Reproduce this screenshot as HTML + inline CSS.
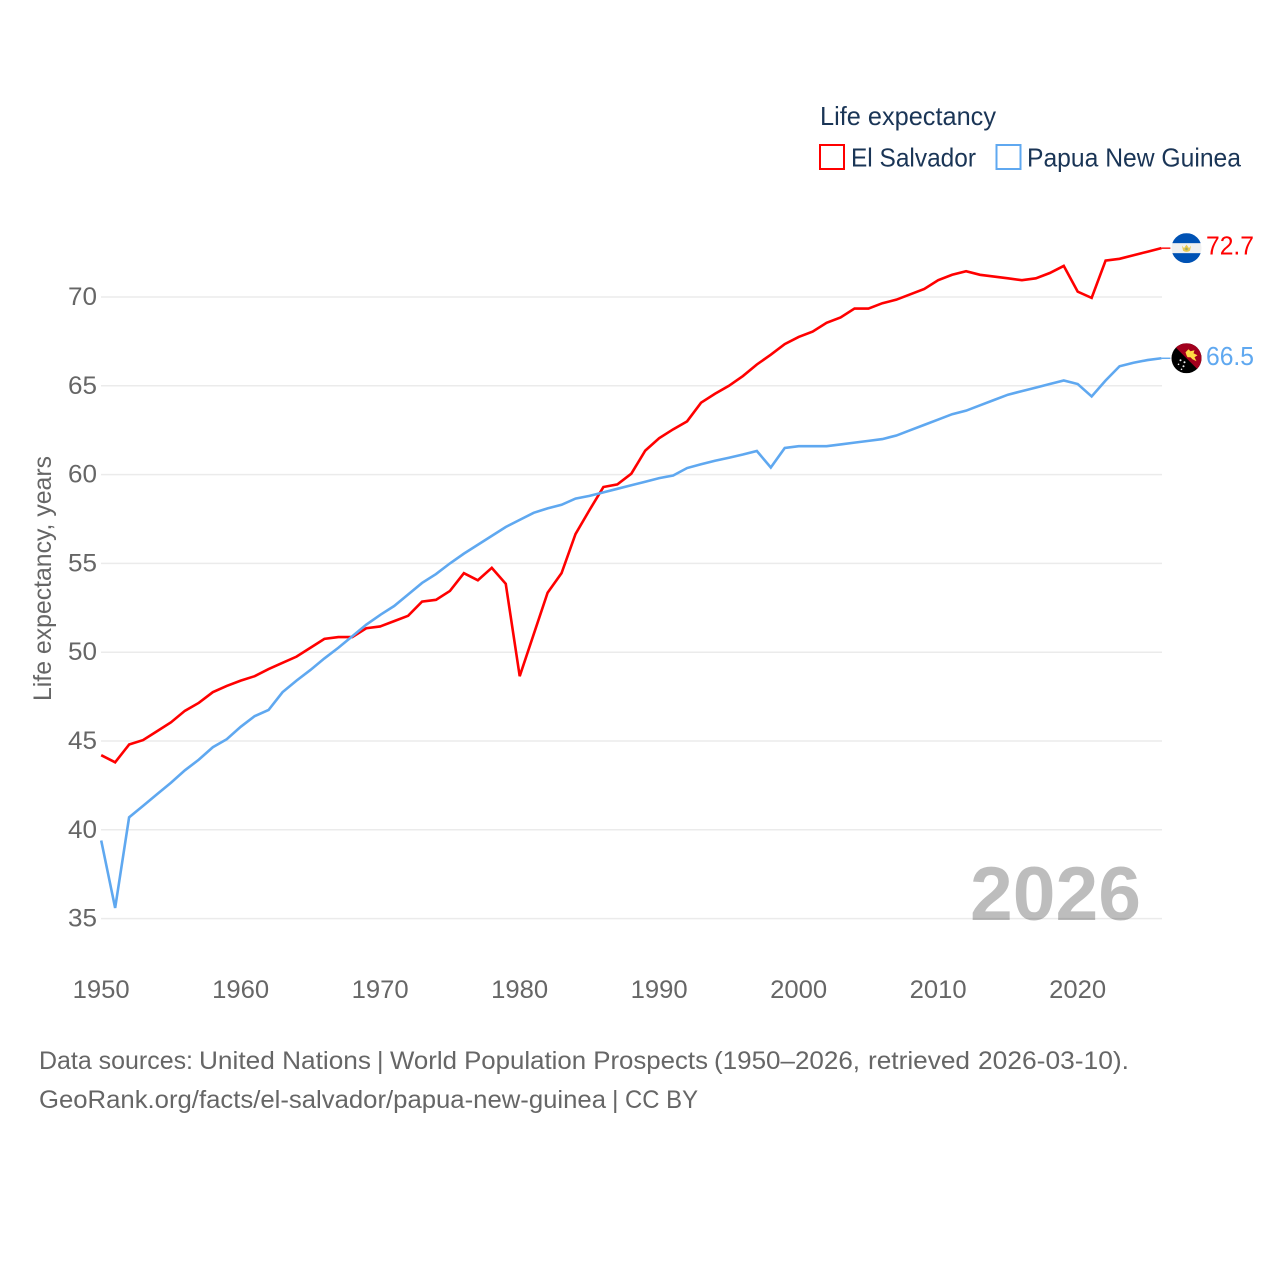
<!DOCTYPE html>
<html lang="en">
<head>
<meta charset="utf-8">
<title>Life expectancy: El Salvador vs Papua New Guinea</title>
<style>
html,body{margin:0;padding:0;background:#fff;}
svg{display:block;}
text{font-family:"Liberation Sans",sans-serif;}
</style>
</head>
<body>
<svg id="chart" xmlns="http://www.w3.org/2000/svg" width="1280" height="1280" viewBox="0 0 1280 1280">
  <defs>
    <clipPath id="flag-clip-a"><circle cx="0" cy="0" r="15"/></clipPath>
    <clipPath id="flag-clip-b"><circle cx="0" cy="0" r="15"/></clipPath>
  </defs>
  <rect x="0" y="0" width="1280" height="1280" fill="#fff"/>
  <g id="grid"></g>
  <g id="yticks"></g>
  <g id="xticks"></g>
  <text transform="translate(51,701) rotate(-90)" font-size="25" fill="#666" textLength="245" lengthAdjust="spacingAndGlyphs">Life expectancy, years</text>
  <text x="970" y="920" font-size="76" font-weight="bold" fill="#000" fill-opacity="0.26" textLength="171" lengthAdjust="spacingAndGlyphs">2026</text>
  <g id="series"></g>
  <g id="flag-sv">
    <g clip-path="url(#flag-clip-a)">
      <rect x="-15" y="-15" width="30" height="30" fill="#f0f0f0"/>
      <rect x="-15" y="-15" width="30" height="10" fill="#0052b4"/>
      <rect x="-15" y="5" width="30" height="10" fill="#0052b4"/>
      <path d="M-4.500 -2.500 L-2.500 0 L0 -3.500 L2.500 0 L4.500 -2.500 L3.500 2.500 Q0 5 -3.500 2.500 Z" fill="#e8c94e"/>
      <circle cx="0" cy="0.800" r="1.300" fill="#9aa86a"/>
    </g>
  </g>
  <g id="flag-pg">
    <g clip-path="url(#flag-clip-b)">
      <rect x="-15" y="-15" width="30" height="30" fill="#000"/>
      <path d="M-15 -15 L15 -15 L15 15 Z" fill="#a2001d"/>
      <path d="M-1 -6 L2 -9 L4 -7 L8 -8 L7 -5 L11 -3 L8 -1 L10 3 L6 1 L4 -1 L1 -1 L0 -3 Z" fill="#ffda44"/>
      <circle cx="-6" cy="2" r="1" fill="#eee"/>
      <circle cx="-2" cy="4" r="1" fill="#eee"/>
      <circle cx="-8" cy="6" r="0.800" fill="#eee"/>
      <circle cx="-3" cy="8" r="1" fill="#eee"/>
      <circle cx="-5" cy="11" r="0.800" fill="#eee"/>
    </g>
  </g>
  <g id="values"></g>

  <g>
    <text x="820" y="125" font-size="26" fill="#1a3556" textLength="176" lengthAdjust="spacingAndGlyphs">Life expectancy</text>
    <g>
      <rect x="820" y="145" width="24" height="24" fill="#fff" stroke="#ff0000" stroke-width="2"/>
      <text x="851" y="166.500" font-size="26" fill="#1a3556" textLength="125" lengthAdjust="spacingAndGlyphs">El Salvador</text>
    </g>
    <g>
      <rect x="996.500" y="145" width="24" height="24" fill="#fff" stroke="#5fa8f0" stroke-width="2"/>
      <text x="1027" y="166.500" font-size="26" fill="#1a3556" textLength="214" lengthAdjust="spacingAndGlyphs">Papua New Guinea</text>
    </g>
  </g>

  <g font-size="25" fill="#666">
    <text x="39" y="1069" textLength="154" lengthAdjust="spacingAndGlyphs">Data sources:</text>
    <text x="199" y="1069" textLength="172" lengthAdjust="spacingAndGlyphs">United Nations</text>
    <text x="377" y="1069">|</text>
    <text x="390" y="1069" textLength="318" lengthAdjust="spacingAndGlyphs">World Population Prospects</text>
    <text x="714" y="1069" textLength="146" lengthAdjust="spacingAndGlyphs">(1950–2026,</text>
    <text x="868" y="1069" textLength="102" lengthAdjust="spacingAndGlyphs">retrieved</text>
    <text x="978" y="1069" textLength="151" lengthAdjust="spacingAndGlyphs">2026-03-10).</text>
  </g>
  <g font-size="25" fill="#666">
    <text x="39" y="1108" textLength="567" lengthAdjust="spacingAndGlyphs">GeoRank.org/facts/el-salvador/papua-new-guinea</text>
    <text x="612" y="1108">|</text>
    <text x="625" y="1108" textLength="73" lengthAdjust="spacingAndGlyphs">CC BY</text>
  </g>
</svg>
<script>
const startYear = 1950;
const yTickValues = [35, 40, 45, 50, 55, 60, 65, 70];
const xTickValues = [1950, 1960, 1970, 1980, 1990, 2000, 2010, 2020];
const elSalvador = [44.2,43.8,44.8,45.05,45.55,46.05,46.7,47.15,47.75,48.1,48.4,48.65,49.05,49.4,49.75,50.25,50.75,50.85,50.85,51.35,51.45,51.75,52.05,52.85,52.95,53.45,54.45,54.05,54.75,53.85,48.65,51,53.35,54.45,56.65,58,59.3,59.45,60.05,61.35,62.05,62.55,63,64.05,64.55,65,65.55,66.2,66.75,67.35,67.75,68.05,68.55,68.85,69.35,69.35,69.65,69.85,70.15,70.45,70.95,71.25,71.45,71.25,71.15,71.05,70.95,71.05,71.35,71.75,70.3,69.95,72.05,72.15,72.35,72.55,72.75];
const papuaNewGuinea = [39.4,35.6,40.7,41.35,42,42.65,43.35,43.95,44.65,45.1,45.8,46.4,46.75,47.75,48.4,49,49.65,50.25,50.9,51.55,52.1,52.6,53.25,53.9,54.4,55,55.55,56.05,56.55,57.05,57.45,57.85,58.1,58.3,58.65,58.8,59,59.2,59.4,59.6,59.8,59.95,60.37,60.58,60.78,60.95,61.13,61.33,60.4,61.5,61.6,61.6,61.6,61.7,61.8,61.9,62,62.2,62.5,62.8,63.1,63.4,63.6,63.9,64.2,64.5,64.7,64.9,65.1,65.3,65.1,64.4,65.3,66.1,66.3,66.45,66.55];
const endLabels = ["72.7", "66.5"];

const NS = 'http://www.w3.org/2000/svg';
function xPos(year) { return 101.2 + (year - 1950) * 13.95; }
function yPos(v) { return 297 + (70 - v) * 17.76; }
function mk(parent, tag, attrs, txt) {
  const el = document.createElementNS(NS, tag);
  for (const k in attrs) el.setAttribute(k, attrs[k]);
  if (txt !== undefined) el.textContent = txt;
  document.getElementById(parent).appendChild(el);
  return el;
}

yTickValues.forEach(function (v) {
  const line = mk('grid', 'line', {x1: 101, x2: 1162, y1: yPos(v), y2: yPos(v), stroke: '#ebebeb', 'stroke-width': 1.5});
  
  
  const lab = mk('yticks', 'text', {x: 97, y: yPos(v) + 8, 'text-anchor': 'end', 'font-size': 25, fill: '#666', textLength: 29, lengthAdjust: 'spacingAndGlyphs'}, String(v));
  
  
});

xTickValues.forEach(function (t) {
  const lab = mk('xticks', 'text', {x: xPos(t), y: 998, 'text-anchor': 'middle', 'font-size': 25, fill: '#666', textLength: 57, lengthAdjust: 'spacingAndGlyphs'}, String(t));
  
  
});

function drawSeries(values, color, key) {
  const pts = values.map(function (v, i) { return xPos(startYear + i).toFixed(2) + ',' + yPos(v).toFixed(2); }).join(' ');
  const line = mk('series', 'polyline', {points: pts, fill: 'none', stroke: color, 'stroke-width': 2.6, 'stroke-linejoin': 'miter'});
  
  
  const lastY = yPos(values[values.length - 1]);
  const lastX = xPos(startYear + values.length - 1);
  const tail = mk('series', 'line', {x1: lastX, x2: lastX + 9, y1: lastY, y2: lastY, stroke: color, 'stroke-width': 1.4});
  
  
  return lastY;
}

const ySv = drawSeries(elSalvador, '#ff0000', 'el-salvador');
const yPg = drawSeries(papuaNewGuinea, '#5fa8f0', 'papua-new-guinea');

document.getElementById('flag-sv').setAttribute('transform', 'translate(1186.5,' + ySv + ')');
document.getElementById('flag-pg').setAttribute('transform', 'translate(1186.5,' + yPg + ')');

const svVal = mk('values', 'text', {x: 1206, y: ySv + 6.5, 'font-size': 26, fill: '#ff0000', textLength: 48, lengthAdjust: 'spacingAndGlyphs'}, endLabels[0]);


const pgVal = mk('values', 'text', {x: 1206, y: yPg + 6.5, 'font-size': 26, fill: '#5fa8f0', textLength: 48, lengthAdjust: 'spacingAndGlyphs'}, endLabels[1]);


</script>
</body>
</html>
